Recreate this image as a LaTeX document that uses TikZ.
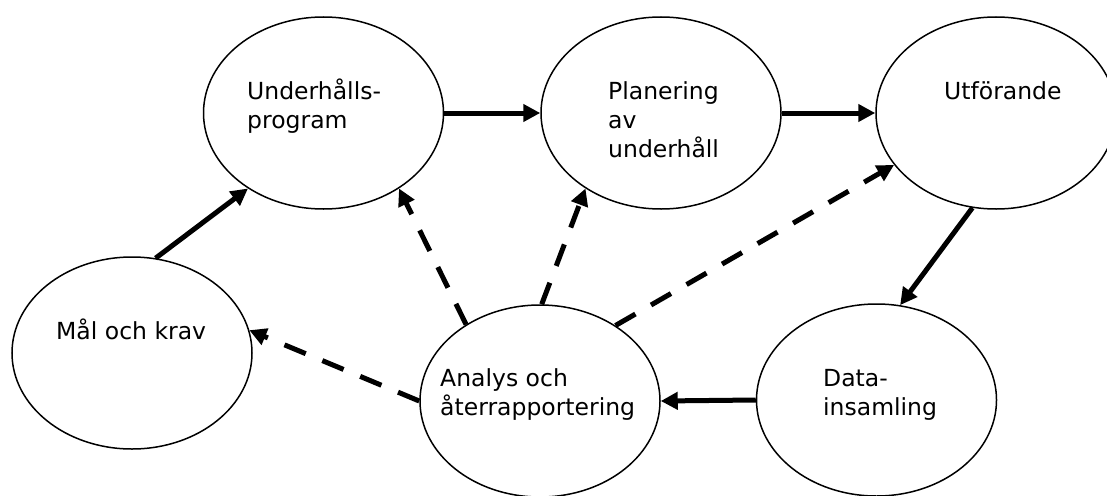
\documentclass[tikz,border=0pt]{standalone}
\usepackage{fontspec}
\setmainfont{DejaVu Sans}
\usetikzlibrary{shapes.geometric,arrows.meta}

\tikzset{
  bubble/.style={draw, ellipse, line width=1.5pt, minimum width=240pt,
                 minimum height=192pt, inner sep=0pt},
  % placed at the baseline of the last line of the name
  caption/.style={anchor=base west, align=left, inner sep=0pt,
                  font=\fontsize{23.5pt}{29pt}\selectfont},
  flow/.style={line width=5pt, -{Triangle[length=17pt,width=17pt]}},
  feedback/.style={flow, dash pattern=on 23pt off 18pt},
}

\begin{document}
\begin{tikzpicture}[x=1pt,y=-1pt]
  \useasboundingbox (0,0) rectangle (1107,495);
  \clip (0,0) rectangle (1107,495);

  % process stages
  \node[bubble] (U)  at (323.5,113) {};
  \node[bubble] (P)  at (661,113)   {};
  \node[bubble] (Ut) at (996,113)   {};
  \node[bubble] (M)  at (132,353)   {};
  \node[bubble] (A)  at (540,401)   {};
  \node[bubble] (D)  at (876.5,400) {};

  % stage names
  \node[caption] (tU)  at (247,128)   {Underhålls-\\program};
  \node[caption] (tP)  at (608,157)   {Planering\\av\\underhåll};
  \node[caption] (tUt) at (944,99)    {Utförande};
  \node[caption] (tM)  at (56,339)    {Mål och krav};
  \node[caption] (tA)  at (440,415.7) {Analys och\\återrapportering};
  \node[caption] (tD)  at (823,415.7) {Data-\\insamling};

  % main cycle
  \draw[flow] (M.76)    -- (U.225);
  \draw[flow] (U.east)  -- (P.west);
  \draw[flow] (P.east)  -- (Ut.west);
  \draw[flow] (Ut.-104) -- (D.76);
  \draw[flow] (D.west)  -- (A.east);

  % feedback from analysis
  \draw[feedback] (A.west)  -- (M.11);
  \draw[feedback] (A.134.6) -- (U.-45);
  \draw[feedback] (A.89)    -- (P.225);
  \draw[feedback] (A.45)    -- (Ut.207);
\end{tikzpicture}
\end{document}
